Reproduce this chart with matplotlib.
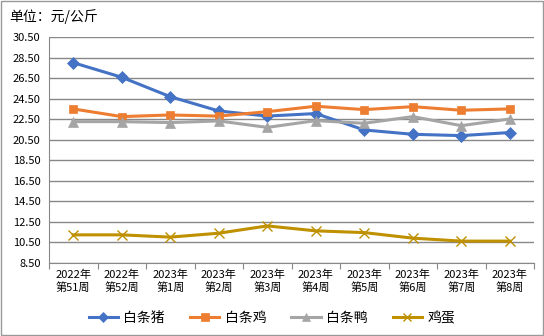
import matplotlib.pyplot as plt
from matplotlib.patches import Rectangle

plt.rcParams["font.family"] = ["Noto Sans CJK SC", "DejaVu Sans"]

weeks = ["2022年\n第51周", "2022年\n第52周", "2023年\n第1周", "2023年\n第2周",
         "2023年\n第3周", "2023年\n第4周", "2023年\n第5周", "2023年\n第6周",
         "2023年\n第7周", "2023年\n第8周"]
pork = [28.00, 26.58, 24.69, 23.30, 22.80, 23.05, 21.45, 21.03, 20.90, 21.20]
chicken = [23.50, 22.75, 22.91, 22.80, 23.23, 23.76, 23.43, 23.72, 23.37, 23.50]
duck = [22.26, 22.26, 22.17, 22.33, 21.70, 22.36, 22.10, 22.75, 21.87, 22.52]
egg = [11.24, 11.24, 11.02, 11.40, 12.11, 11.63, 11.46, 10.92, 10.63, 10.63]
yticks = [8.5, 10.5, 12.5, 14.5, 16.5, 18.5, 20.5, 22.5, 24.5, 26.5, 28.5, 30.5]

series = [
    ("白条猪", pork, "#4472C4", "D", 6),
    ("白条鸡", chicken, "#ED7D31", "s", 6),
    ("白条鸭", duck, "#A5A5A5", "^", 7),
    ("鸡蛋", egg, "#BF9000", "x", 7),
]

fig = plt.figure(figsize=(5.44, 3.36), dpi=100)
ax = fig.add_axes([49 / 544, 1 - 263 / 336, 485 / 544, 226 / 336])

x = range(len(weeks))
for name, vals, color, marker, ms in series:
    ax.plot(x, vals, color=color, lw=2.2, marker=marker, markersize=ms,
            markeredgewidth=1.0 if marker == "x" else 0.5, label=name)

ax.set_xlim(-0.5, len(weeks) - 0.5)
ax.set_ylim(8.5, 30.5)
ax.set_yticks(yticks)
ax.set_yticklabels([f"{v:.2f}" for v in yticks], fontsize=8)
ax.set_xticks([i - 0.5 for i in range(len(weeks) + 1)])
ax.set_xticklabels([])
ax.set_xticks(list(x), minor=True)
ax.set_xticklabels(weeks, minor=True, fontsize=8, linespacing=1.25)
ax.tick_params(axis="x", which="major", length=4, color="#888888")
ax.tick_params(axis="x", which="minor", length=0, pad=5)
ax.tick_params(axis="y", length=0, pad=6)
ax.grid(axis="y", color="#888888", lw=1)
ax.set_axisbelow(True)
for side in ["top", "right"]:
    ax.spines[side].set_visible(False)
for side in ["left", "bottom"]:
    ax.spines[side].set_color("#888888")

fig.text(9 / 544, 1 - 17 / 336, "单位：元/公斤", fontsize=10, va="center")

fig.legend(loc="center", bbox_to_anchor=(0.5, 1 - 318 / 336), ncol=4,
           frameon=False, fontsize=10, handlelength=2.1, columnspacing=1.8,
           handletextpad=0.4, markerscale=0.85)

fig.patches.append(Rectangle((0.001, 0.002), 0.997, 0.995, transform=fig.transFigure,
                             fill=False, edgecolor="#999999", lw=1))

fig.savefig("out.png", dpi=100)
